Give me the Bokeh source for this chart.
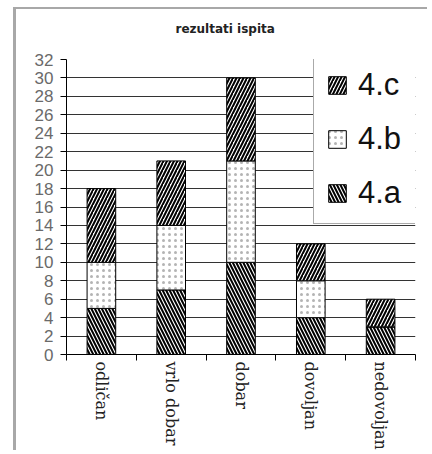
from bokeh.plotting import figure
from bokeh.models import (ColumnDataSource, Range1d, FixedTicker, Legend, LegendItem, Title)
from bokeh.embed import file_html
from bokeh.resources import INLINE

categories = ["odličan", "vrlo dobar", "dobar", "dovoljan", "nedovoljan"]
series_names = ["4.a", "4.b", "4.c"]
vals_4a = [5, 7, 10, 4, 3]
vals_4b = [5, 7, 11, 4, 0]
vals_4c = [8, 7, 9, 4, 3]
y_ticks = list(range(0, 33, 2))
chart_title = "rezultati ispita"

xs = list(range(1, len(categories) + 1))
source = ColumnDataSource(data={"x": xs, "4.a": vals_4a, "4.b": vals_4b, "4.c": vals_4c})

p = figure(width=414, height=443, output_backend="svg", toolbar_location=None,
           x_range=Range1d(0.5, len(categories) + 0.5), y_range=Range1d(0, 32),
           min_border_left=50, min_border_right=15, min_border_top=50, min_border_bottom=96,
           title=None)
p.styles = {"margin-left": "13px", "margin-top": "7px",
            "border-left": "3px solid #a8a8a8", "border-top": "2px solid #a8a8a8"}

# spacer between the frame and the title, then the title itself
p.add_layout(Title(text=" ", text_font_size="1px", standoff=21), "above")
p.add_layout(Title(text=chart_title, text_font="DejaVu Sans", text_font_size="12px",
                   text_font_style="bold", align="left", offset=109, standoff=0,
                   text_color="#222222"), "above")

p.outline_line_color = None
p.background_fill_color = "white"
p.border_fill_color = "white"

renderers = p.vbar_stack(series_names, x="x", width=0.41, source=source,
                         fill_color="white", line_color="black", line_width=1,
                         hatch_pattern=["\\", ".", "/"],
                         hatch_color=["black", "#b4b4b4", "black"],
                         hatch_scale=[7, 6, 7],
                         hatch_weight=[2, 1, 2])

# axes
p.xgrid.grid_line_color = None
p.ygrid.grid_line_color = "#333333"
p.ygrid.ticker = FixedTicker(ticks=y_ticks)

p.yaxis.ticker = FixedTicker(ticks=y_ticks)
p.yaxis.axis_line_color = "black"
p.yaxis.major_tick_line_color = "black"
p.yaxis.major_tick_out = 6
p.yaxis.major_tick_in = 0
p.yaxis.minor_tick_line_color = None
p.yaxis.major_label_standoff = 7
p.yaxis.major_label_text_font = "Liberation Sans"
p.yaxis.major_label_text_font_size = "17px"
p.yaxis.major_label_text_color = "#6a6a6a"

p.xaxis.ticker = FixedTicker(ticks=xs, minor_ticks=[x - 0.5 for x in xs] + [xs[-1] + 0.5])
p.xaxis.major_label_overrides = {x: c for x, c in zip(xs, categories)}
p.xaxis.major_label_orientation = "vertical"
p.xaxis.major_tick_line_color = None
p.xaxis.major_tick_out = 0
p.xaxis.major_tick_in = 0
p.xaxis.minor_tick_line_color = "black"
p.xaxis.minor_tick_out = 6
p.xaxis.minor_tick_in = 0
p.xaxis.axis_line_color = "black"
p.xaxis.major_label_standoff = 1
p.xaxis.major_label_text_font = "DejaVu Serif"
p.xaxis.major_label_text_font_size = "16px"
p.xaxis.major_label_text_color = "#222222"

items = [LegendItem(label=name, renderers=[r]) for name, r in zip(series_names, renderers)]
items.reverse()
legend = Legend(items=items, location=(247, 130), orientation="vertical",
                label_text_font="Liberation Sans", label_text_font_size="31px",
                label_text_color="#111111",
                glyph_width=22, glyph_height=22, label_height=30, label_width=47,
                label_standoff=10, spacing=18, padding=12, margin=0,
                border_line_color="#555555", border_line_width=1,
                background_fill_color="white", background_fill_alpha=1)
p.add_layout(legend, "center")

open("out.html", "w").write(file_html(p, INLINE))
